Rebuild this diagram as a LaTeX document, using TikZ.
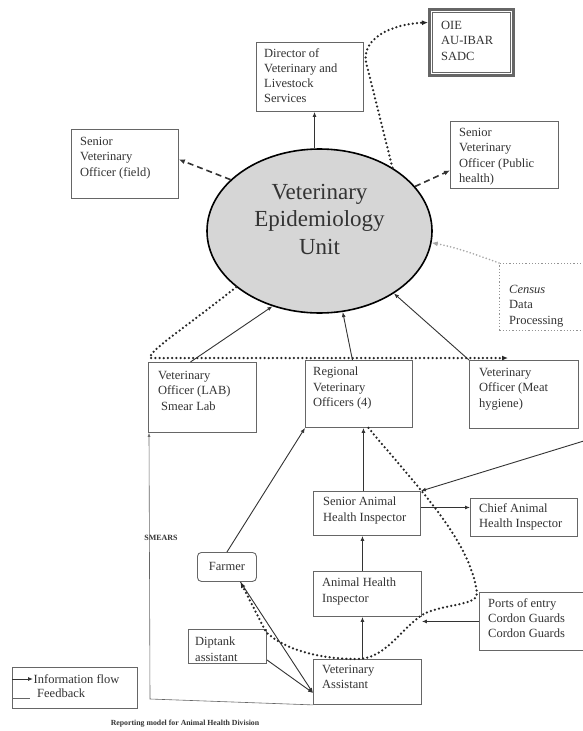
\documentclass[tikz,border=0pt]{standalone}
\usepackage{fontspec}
\setmainfont{Liberation Serif}
\usetikzlibrary{arrows.meta,shapes.geometric}
\definecolor{ink}{HTML}{333333}
\definecolor{frame}{HTML}{666666}
\definecolor{ellfill}{HTML}{D6D6D6}
\begin{document}
\begin{tikzpicture}[x=1pt,y=-1pt,
  bx/.style={draw=frame,line width=0.9pt,inner sep=0pt,rectangle,anchor=north west},
  txt/.style={inner sep=0pt,anchor=north west,align=left,text=ink,font=\fontsize{12.5}{15.3}\selectfont},
  arr/.style={draw=ink,line width=0.9pt,-{Latex[length=5pt,width=4pt]}},
  fbline/.style={draw=frame,line width=0.6pt},
  dashar/.style={draw=ink,line width=1.6pt,dash pattern=on 6pt off 4pt,-{Latex[length=6pt,width=5pt]}},
  dotar/.style={draw=black!85,line width=2.5pt,dash pattern=on 0pt off 4.2pt,line cap=round,-{Latex[length=6pt,width=5pt]}},
]
\useasboundingbox (0,0) rectangle (582,731);
\fill[white] (0,0) rectangle (582,731);

% top boxes
\node[bx,draw=black!60,line width=3pt,minimum width=84pt,minimum height=66pt] (oie) at (428,8) {};
\draw[draw=black!60,line width=0.8pt] ([shift={(4.5,4.5)}]oie.north west) rectangle ([shift={(-4.5,-4.5)}]oie.south east);
\node[txt] (toie) at (441,21) {OIE\\AU-IBAR\\SADC};

\node[bx,minimum width=107pt,minimum height=69pt] (dir) at (256,42) {};
\node[txt] (tdir) at (264,48) {Director of\\Veterinary and\\Livestock\\Services};

\node[bx,minimum width=107pt,minimum height=69pt] (svof) at (71,129) {};
\node[txt] (tsvof) at (80,137) {Senior\\Veterinary\\Officer (field)};

\node[bx,minimum width=108pt,minimum height=67pt] (svop) at (450,121) {};
\node[txt] (tsvop) at (459,128) {Senior\\Veterinary\\Officer (Public\\health)};

% central ellipse
\node[ellipse,draw=black,line width=1.6pt,minimum width=225pt,minimum height=164pt,inner sep=0pt,
      fill=ellfill] (ell) at (319.5,231) {};
\node[align=center,text=ink,inner sep=0pt,font=\fontsize{23}{27.5}\selectfont] (tell) at (319.5,219) {Veterinary\\Epidemiology\\Unit};

% census
\node[bx,draw=gray!85,line width=1pt,dash pattern=on 1.2pt off 2pt,minimum width=100pt,minimum height=67pt] (cen) at (499,263) {};
\node[txt,font=\fontsize{12.5}{15.5}\selectfont] (tcen) at (509,285) {\textit{Census}\\Data\\Processing};

% middle row
\node[bx,minimum width=108pt,minimum height=70pt] (lab) at (148,362) {};
\node[txt] (tlab) at (158,371) {Veterinary\\Officer (LAB)\\\hspace*{3pt}Smear Lab};

\node[bx,minimum width=107pt,minimum height=67pt] (reg) at (305,360) {};
\node[txt] (treg) at (313,367) {Regional\\Veterinary\\Officers (4)};

\node[bx,minimum width=109pt,minimum height=68pt] (meat) at (469,360) {};
\node[txt] (tmeat) at (479,368) {Veterinary\\Officer (Meat\\hygiene)};

% lower part
\node[bx,minimum width=107pt,minimum height=44pt] (sahi) at (313,491) {};
\node[txt] (tsahi) at (323,497) {Senior Animal\\Health Inspector};

\node[bx,minimum width=107pt,minimum height=38pt] (chief) at (470,498) {};
\node[txt] (tchief) at (479,503) {Chief Animal\\Health Inspector};

\node[bx,rounded corners=4pt,minimum width=59pt,minimum height=29pt,text=ink,font=\fontsize{12.5}{15}\selectfont] (farmer) at (197,552) {Farmer};

\node[bx,minimum width=108pt,minimum height=45pt] (ahi) at (313,571) {};
\node[txt] (tahi) at (322,578) {Animal Health\\Inspector};

\node[bx,minimum width=110pt,minimum height=58pt] (ports) at (479,592) {};
\node[txt] (tports) at (488,598) {Ports of entry\\Cordon Guards\\Cordon Guards};

\node[bx,minimum width=78pt,minimum height=34pt] (dip) at (188,629) {};
\node[txt] (tdip) at (195,637) {Diptank\\assistant};

\node[bx,minimum width=108pt,minimum height=45pt] (va) at (313,659) {};
\node[txt] (tva) at (322,665) {Veterinary\\Assistant};

\node[text=ink,inner sep=0pt,font=\bfseries\fontsize{8}{9}\selectfont] (smears) at (161,538) {SMEARS};

% connectors from the unit
\draw[arr] ([xshift=-5pt]ell.north) -- ([xshift=-5pt]ell.north |- dir.south);
\draw[dashar] (ell.150) -- ([yshift=4.5pt]svof.east);
\draw[dashar] (ell.25) -- ([yshift=-15.5pt]svop.west);
\draw[dotar] (ell.41) -- (366,62) .. controls (362,38) and (392,24) .. ([yshift=20pt]oie.west);
\draw[dotar,draw=gray!70,line width=1.8pt,dash pattern=on 0pt off 3.4pt] (cen.north west) .. controls (480,256) and (455,247) .. (ell.-6);

% into the unit
\draw[arr] ([xshift=-12pt]lab.north) -- (ell.238);
\draw[arr] ([xshift=-6.5pt]reg.north) -- (ell.286);
\draw[arr] (meat.north west) -- (ell.320);
\draw[dotar] (ell.214) .. controls (178,333) and (150,350) .. (150,358) -- ([xshift=39pt,yshift=2pt]meat.north west);

% lower connectors
\draw[arr] (farmer.north) -- (reg.south west);
\draw[arr] ([xshift=-3.5pt]sahi.north) -- ([xshift=-3.5pt]sahi.north |- reg.south);
\draw[arr] ([xshift=-5pt]ahi.north) -- ([xshift=-5pt]ahi.north |- sahi.south);
\draw[arr] ([xshift=-5pt]va.north) -- ([xshift=-5pt]va.north |- ahi.south);
\draw[arr] ([yshift=6pt]sahi.east) -- ([yshift=6pt]sahi.east -| chief.west);
\coordinate (offR) at (600,436);
\draw[arr] (offR) -- (sahi.north east);
\draw[arr] (ports.west) -- (ports.west -| ahi.east);
\draw[arr] ([yshift=4pt]dip.south east) -- ([yshift=-11pt]va.west);
\draw[arr] ([xshift=13.5pt]farmer.south) -- ([yshift=-11pt]va.west);
\coordinate (smc) at (150,699);
\draw[fbline,-{Latex[length=4pt,width=3pt]}] (va.south west) -- (smc) -- ([xshift=1pt]lab.south west);
\draw[dotar] ([xshift=9.5pt]reg.south) .. controls (420,490) and (470,540) .. (477,593)
   .. controls (479,606) and (440,604) .. (422,615)
   .. controls (400,630) and (385,659) .. (357,659)
   .. controls (320,659) and (285,650) .. (266,632) -- ([xshift=13.5pt]farmer.south);

% legend
\node[bx,minimum width=125pt,minimum height=41pt] (leg) at (12,667) {};
\draw[arr] ([yshift=-12pt]leg.north west) -- ++(21,0) coordinate (legarr);
\node[txt,anchor=west] (legi) at (33.5,679) {Information flow};
\draw[fbline] ([yshift=-31pt]leg.north west) -- ++(18,0);
\node[txt,anchor=west] (legf) at (37,693) {Feedback};

\node[text=ink,inner sep=0pt,font=\bfseries\fontsize{7.8}{9}\selectfont] (cap) at (185,724) {Reporting model for Animal Health Division};
\end{tikzpicture}
\end{document}
